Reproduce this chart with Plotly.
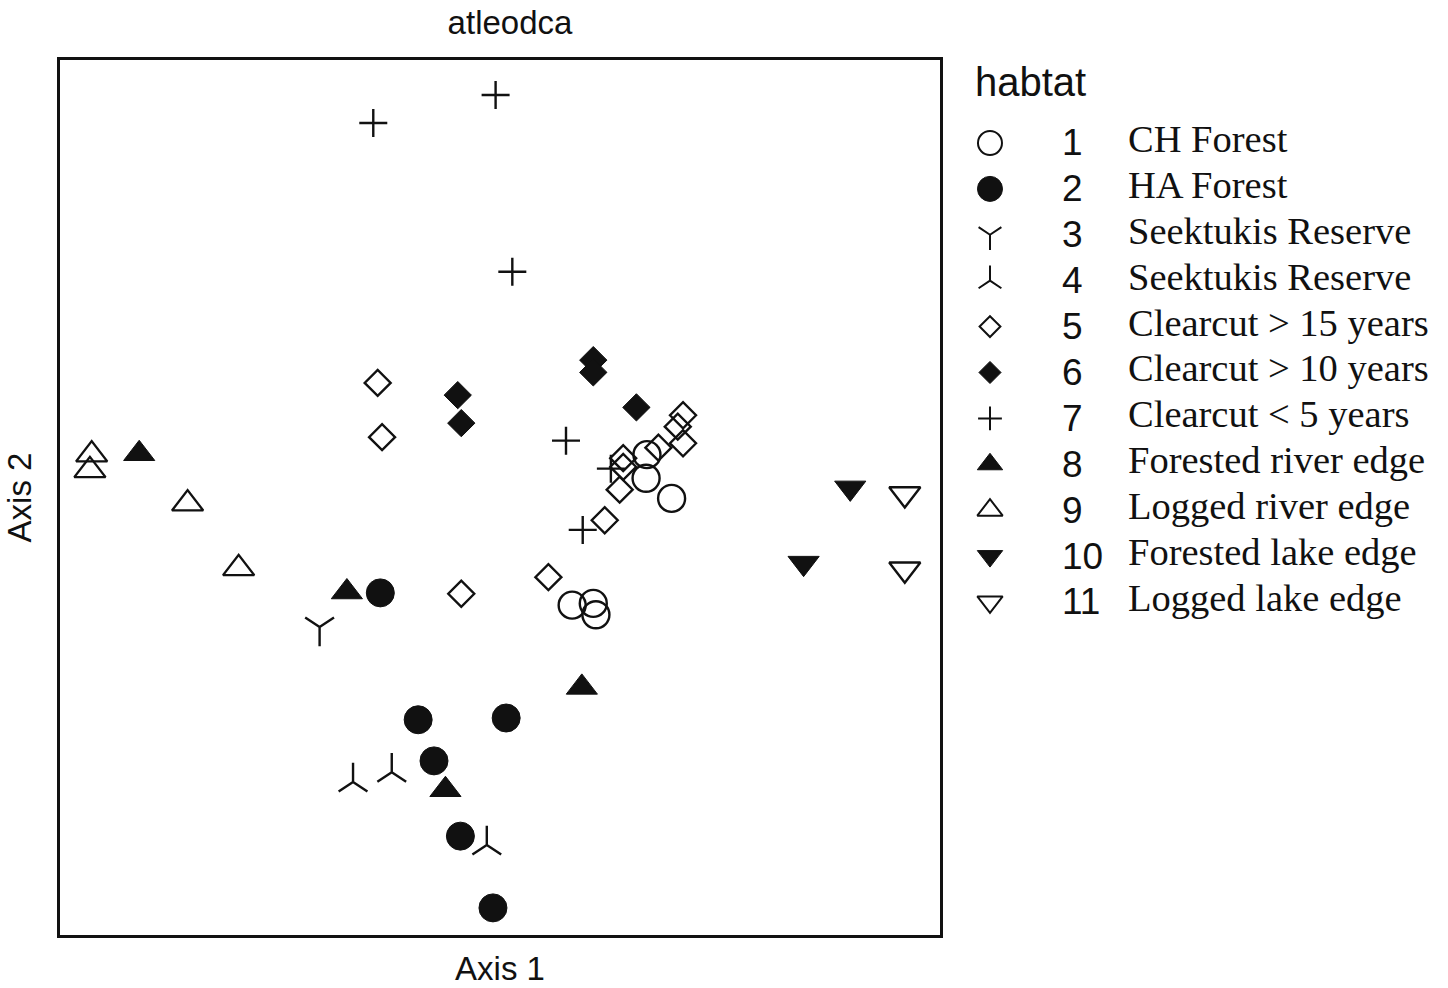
import plotly.graph_objects as go

# ---------------- data (ordination scores, arbitrary units 0-100) ----------------
habitat_codes = ["1", "2", "3", "4", "5", "6", "7", "8", "9", "10", "11"]
habitat_names = ["CH Forest", "HA Forest", "Seektukis Reserve", "Seektukis Reserve",
                 "Clearcut > 15 years", "Clearcut > 10 years", "Clearcut < 5 years",
                 "Forested river edge", "Logged river edge", "Forested lake edge",
                 "Logged lake edge"]

h1_x = [66.7, 66.6, 69.5, 58.2, 60.6, 60.9]
h1_y = [54.9, 52.2, 49.9, 37.7, 37.9, 36.6]

h2_x = [36.4, 40.7, 50.7, 42.5, 45.5, 49.2]
h2_y = [39.1, 24.6, 24.8, 19.9, 11.3, 3.1]

h3_x = [29.5]
h3_y = [35.2]

h4_x = [33.3, 37.7, 48.5]
h4_y = [17.5, 18.6, 10.3]

h5_x = [36.1, 36.6, 45.6, 55.5, 61.9, 63.6, 64.0, 64.0, 68.0, 70.8, 70.2, 70.8]
h5_y = [63.1, 56.9, 39.0, 40.9, 47.4, 50.9, 53.5, 54.5, 55.7, 59.4, 58.1, 56.2]

h6_x = [60.6, 60.6, 45.2, 45.6, 65.5]
h6_y = [65.7, 64.3, 61.7, 58.5, 60.3]

h7_x = [35.6, 49.5, 51.4, 57.5, 62.6, 59.4]
h7_y = [92.8, 96.0, 75.8, 56.5, 53.3, 46.3]

h8_x = [9.0, 32.6, 59.3, 43.8]
h8_y = [55.0, 39.2, 28.3, 16.6]

h9_x = [3.6, 3.4, 14.5, 20.3]
h9_y = [54.9, 53.1, 49.3, 41.9]

h10_x = [89.8, 84.5]
h10_y = [51.1, 42.5]

h11_x = [96.0, 96.0]
h11_y = [50.4, 41.8]

series_x = [h1_x, h2_x, h3_x, h4_x, h5_x, h6_x, h7_x, h8_x, h9_x, h10_x, h11_x]
series_y = [h1_y, h2_y, h3_y, h4_y, h5_y, h6_y, h7_y, h8_y, h9_y, h10_y, h11_y]

# ---------------- styles ----------------
INK = "#111111"
# (symbol, plot size, legend size, filled)
styles = [
    ("circle-open", 27, 24, False),
    ("circle", 28, 25, True),
    ("y-down-open", 24, 19, False),
    ("y-up-open", 24, 19, False),
    ("diamond-open", 20, 16, False),
    ("diamond", 21, 17, True),
    ("cross-thin-open", 20, 17, False),
    ("triangle-up", 27, 22, True),
    ("triangle-up-open", 27, 22, False),
    ("triangle-down", 27, 22, True),
    ("triangle-down-open", 27, 22, False),
]

fig = go.Figure()

for i, (xs, ys) in enumerate(zip(series_x, series_y)):
    sym, size, _, filled = styles[i]
    fig.add_trace(go.Scatter(
        x=xs, y=ys, mode="markers", name=habitat_names[i], showlegend=False,
        xaxis="x", yaxis="y",
        marker=dict(symbol=sym, size=size, color=INK,
                    line=dict(color=INK, width=1 if filled else 2.4)),
        hoverinfo="skip",
    ))

# ---------------- custom legend (own axes, row index) ----------------
legend_rows = list(range(1, len(habitat_codes) + 1))
SYM_X, NUM_X, NAME_X = 0.0697, 0.212, 0.346
for i, row in enumerate(legend_rows):
    sym, _, lsize, filled = styles[i]
    fig.add_trace(go.Scatter(
        x=[SYM_X], y=[row], mode="markers", showlegend=False,
        xaxis="x2", yaxis="y2",
        marker=dict(symbol=sym, size=lsize, color=INK,
                    line=dict(color=INK, width=1 if filled else 2.0)),
        hoverinfo="skip",
    ))

annotations = []
for i, row in enumerate(legend_rows):
    annotations.append(dict(
        x=NUM_X, y=row, xref="x2", yref="y2", text=habitat_codes[i],
        showarrow=False, xanchor="left", yanchor="middle",
        font=dict(family="Liberation Sans, Arial", size=37, color=INK)))
    annotations.append(dict(
        x=NAME_X, y=row, xref="x2", yref="y2", text=habitat_names[i], yshift=4,
        showarrow=False, xanchor="left", yanchor="middle",
        font=dict(family="Liberation Serif, Times New Roman", size=38.5, color=INK)))
annotations.append(dict(
    x=0.035, y=-0.33, xref="x2", yref="y2", text="habtat",
    showarrow=False, xanchor="left", yanchor="middle",
    font=dict(family="Liberation Sans, Arial", size=40, color=INK)))

W, H = 1448, 988
fig.update_layout(
    width=W, height=H,
    margin=dict(l=0, r=0, t=0, b=0),
    paper_bgcolor="white", plot_bgcolor="white",
    showlegend=False,
    title=dict(text="atleodca", x=510 / W, y=1 - 22 / H, xref="paper", yref="paper",
               xanchor="center", yanchor="middle",
               font=dict(family="Liberation Sans, Arial", size=33, color=INK)),
    xaxis=dict(domain=[60 / W, 940 / W], range=[0, 100], showline=True, mirror=True,
               linewidth=3, linecolor=INK, showticklabels=False, ticks="",
               showgrid=False, zeroline=False,
               title=dict(text="Axis 1", standoff=20,
                          font=dict(family="Liberation Sans, Arial", size=33, color=INK))),
    yaxis=dict(domain=[1 - 935 / H, 1 - 60 / H], range=[0, 100], showline=True, mirror=True,
               linewidth=3, linecolor=INK, showticklabels=False, ticks="",
               showgrid=False, zeroline=False,
               title=dict(text="Axis 2", standoff=16,
                          font=dict(family="Liberation Sans, Arial", size=33, color=INK))),
    xaxis2=dict(domain=[0.66, 1.0], range=[0, 1], anchor="y2", visible=False),
    yaxis2=dict(domain=[0, 1], range=[19.41, -2.115], anchor="x2", visible=False),
    annotations=annotations,
)

fig.write_html("out.html")
